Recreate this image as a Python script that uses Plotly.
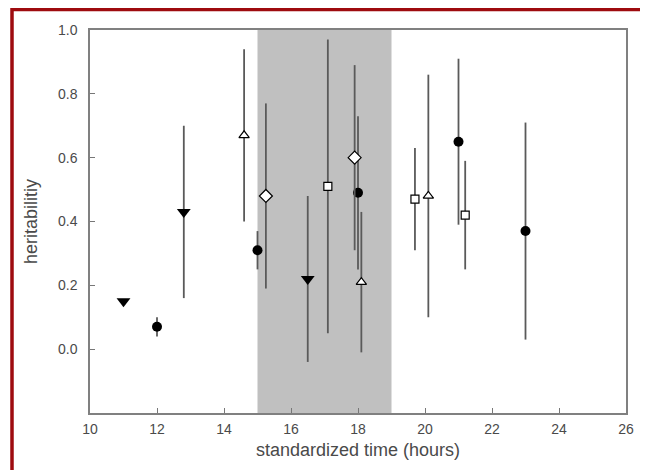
import plotly.graph_objects as go

# Filled down-triangles
tri_dn_x = [11.0, 12.8, 16.5]
tri_dn_y = [0.15, 0.43, 0.22]
tri_dn_lo = [0.15, 0.16, -0.04]
tri_dn_hi = [0.15, 0.70, 0.48]

# Filled circles
circ_x = [12.0, 15.0, 18.0, 21.0, 23.0]
circ_y = [0.07, 0.31, 0.49, 0.65, 0.37]
circ_lo = [0.04, 0.25, 0.25, 0.39, 0.03]
circ_hi = [0.10, 0.37, 0.73, 0.91, 0.71]

# Open up-triangles
tri_up_x = [14.6, 18.1, 20.1]
tri_up_y = [0.67, 0.21, 0.48]
tri_up_lo = [0.40, -0.01, 0.10]
tri_up_hi = [0.94, 0.43, 0.86]

# Open diamonds
dia_x = [15.25, 17.9]
dia_y = [0.48, 0.60]
dia_lo = [0.19, 0.31]
dia_hi = [0.77, 0.89]

# Open squares
sq_x = [17.1, 19.7, 21.2]
sq_y = [0.51, 0.47, 0.42]
sq_lo = [0.05, 0.31, 0.25]
sq_hi = [0.97, 0.63, 0.59]

x_ticks = [10, 12, 14, 16, 18, 20, 22, 24, 26]
y_ticks = [0.0, 0.2, 0.4, 0.6, 0.8, 1.0]
y_tick_text = ["0.0", "0.2", "0.4", "0.6", "0.8", "1.0"]

shade_start, shade_end = 15, 19

ERR_COLOR = "#5a5a5a"


def add_series(fig, xs, ys, lo, hi, symbol, size, fill, line_w):
    plus = [h - y for h, y in zip(hi, ys)]
    minus = [y - l for l, y in zip(lo, ys)]
    fig.add_trace(go.Scatter(
        x=xs, y=ys, mode="markers",
        marker=dict(symbol=symbol, size=size, color=fill,
                    line=dict(color="black", width=line_w)),
        error_y=dict(type="data", array=plus, arrayminus=minus,
                     symmetric=False, width=0, thickness=1.8, color=ERR_COLOR),
        showlegend=False, hoverinfo="x+y",
    ))


fig = go.Figure()
add_series(fig, circ_x, circ_y, circ_lo, circ_hi, "circle", 10, "black", 0)
add_series(fig, tri_dn_x, tri_dn_y, tri_dn_lo, tri_dn_hi, "triangle-down", 12, "black", 0)
add_series(fig, tri_up_x, tri_up_y, tri_up_lo, tri_up_hi, "triangle-up", 9, "white", 1.2)
add_series(fig, dia_x, dia_y, dia_lo, dia_hi, "diamond", 10, "white", 1.2)
add_series(fig, sq_x, sq_y, sq_lo, sq_hi, "square", 8, "white", 1.2)

# page has an 8px body margin; work in figure pixels
OFF = 8
W, H = 648 - OFF, 470 - OFF
L, R, T, B = 90 - OFF, 626 - OFF, 30 - OFF, 413 - OFF
pw, ph = R - L, B - T


def px(xp):
    return (xp - OFF - L) / pw


def py(yp):
    return (B - (yp - OFF)) / ph


fig.update_layout(
    width=W, height=H,
    margin=dict(l=L, r=W - R, t=T, b=H - B),
    paper_bgcolor="white", plot_bgcolor="white",
    font=dict(family="Liberation Sans, Arial, sans-serif", color="#4a4a4a", size=14),
    xaxis=dict(range=[10, 26], tickvals=x_ticks, ticks="inside", ticklen=5,
               tickcolor="#777777", showline=True, linecolor="#808080", linewidth=1.5,
               mirror=True, showgrid=False, zeroline=False, ticklabelstandoff=2,
               title=dict(text="standardized time (hours)", standoff=8,
                          font=dict(size=18, color="#4a4a4a"))),
    yaxis=dict(range=[-0.2, 1.0], tickvals=y_ticks, ticktext=y_tick_text,
               ticks="inside", ticklen=5, tickcolor="#777777",
               showline=True, linecolor="#808080", linewidth=1.5, mirror=True,
               showgrid=False, zeroline=False, ticklabelstandoff=8,
               title=dict(text="heritabilitiy", standoff=16,
                          font=dict(size=18, color="#4a4a4a"))),
    shapes=[
        dict(type="rect", xref="x", yref="paper", x0=shade_start, x1=shade_end,
             y0=0, y1=1, fillcolor="#c0c0c0", line=dict(width=0), layer="below"),
        dict(type="rect", xref="paper", yref="paper",
             x0=px(12), x1=px(645), y0=py(490), y1=py(9.5),
             line=dict(color="#9e0b0f", width=3.5), fillcolor="rgba(0,0,0,0)"),
    ],
)

fig.write_html("out.html")
